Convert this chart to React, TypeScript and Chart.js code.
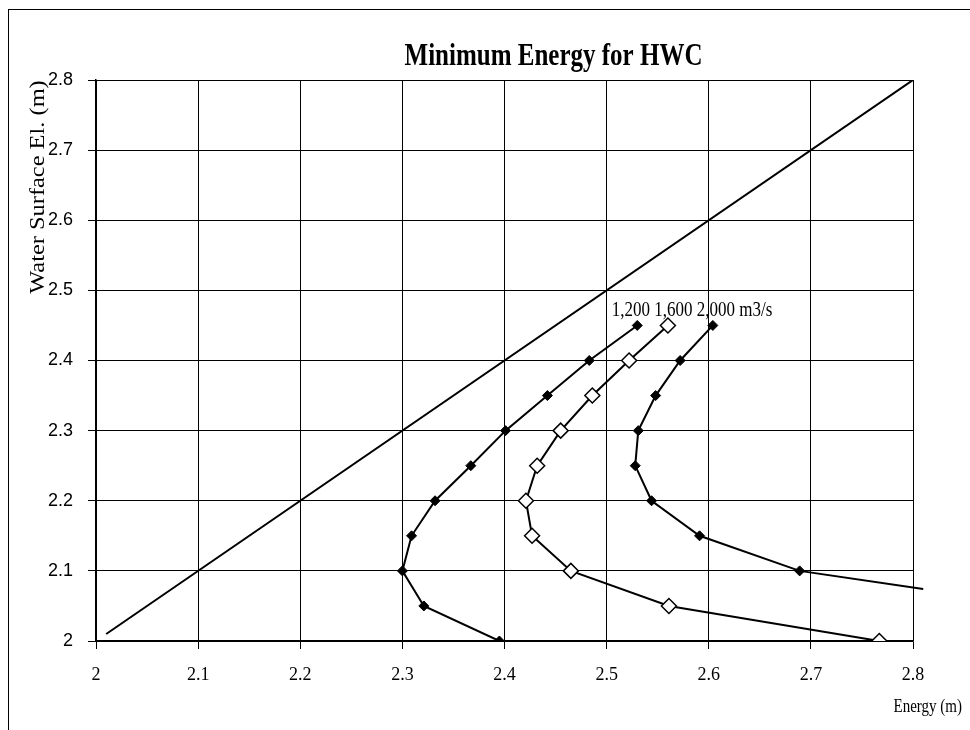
import React, { useEffect, useRef } from "react";
import { Chart, registerables } from "chart.js";

Chart.register(...registerables);

const titleText = "Minimum Energy for HWC";
const xAxisTitle = "Energy (m)";
const yAxisTitle = "Water Surface El. (m)";
const seriesLabel = "1,200 1,600 2,000 m3/s";

const xTickLabels = ["2", "2.1", "2.2", "2.3", "2.4", "2.5", "2.6", "2.7", "2.8"];
const yTickLabels = ["2", "2.1", "2.2", "2.3", "2.4", "2.5", "2.6", "2.7", "2.8"];

// Water surface elevations (m)
const waterEl = [2.0, 2.05, 2.1, 2.15, 2.2, 2.25, 2.3, 2.35, 2.4, 2.45];
// Energy (m) for 1,200 m3/s
const energy1200 = [2.395, 2.321, 2.3, 2.309, 2.332, 2.367, 2.401, 2.442, 2.483, 2.53];
// Energy (m) for 1,600 m3/s
const energy1600 = [2.767, 2.561, 2.465, 2.427, 2.421, 2.432, 2.455, 2.486, 2.522, 2.56];
// 2,000 m3/s (curve runs past the right edge at its low end)
const waterEl2000 = [2.074, 2.1, 2.15, 2.2, 2.25, 2.3, 2.35, 2.4, 2.45];
const energy2000 = [2.81, 2.689, 2.591, 2.544, 2.528, 2.531, 2.548, 2.572, 2.604];
// Critical (E = y) line
const diagonalX = [2.01, 2.8];
const diagonalY = [2.01, 2.8];

// label anchor (data coords)
const labelAnchorX = 2.505;
const labelAnchorY = 2.463;
// title centre (data x)
const titleCenterX = 2.448;

const toPoints = (xs: number[], ys: number[]) => xs.map((x, i) => ({ x, y: ys[i] }));

// draws text stretched along its own vertical direction (the scan is taller than wide)
function stretchedText(
  ctx: CanvasRenderingContext2D,
  text: string,
  x: number,
  y: number,
  font: string,
  align: CanvasTextAlign,
  baseline: CanvasTextBaseline,
  sy: number,
  rotate = 0
) {
  ctx.save();
  ctx.translate(x, y);
  if (rotate) {
    ctx.rotate(rotate);
    ctx.scale(sy, 1);
  } else {
    ctx.scale(1, sy);
  }
  ctx.font = font;
  ctx.textAlign = align;
  ctx.textBaseline = baseline;
  ctx.fillStyle = "#000";
  ctx.fillText(text, 0, 0);
  ctx.restore();
}

const textPlugin = {
  id: "extraText",
  afterDraw(chart: any) {
    const { ctx, scales } = chart;
    stretchedText(
      ctx,
      titleText,
      scales.x.getPixelForValue(titleCenterX),
      57,
      "bold 25px 'Liberation Serif', serif",
      "center",
      "middle",
      1.25
    );
    stretchedText(
      ctx,
      seriesLabel,
      scales.x.getPixelForValue(labelAnchorX),
      scales.y.getPixelForValue(labelAnchorY),
      "17px 'Liberation Serif', serif",
      "left",
      "alphabetic",
      1.25
    );
    stretchedText(ctx, xAxisTitle, 962, 707, "15px 'Liberation Serif', serif", "right", "middle", 1.3);
    stretchedText(
      ctx,
      yAxisTitle,
      39,
      187,
      "20px 'Liberation Serif', serif",
      "center",
      "middle",
      1.22,
      -Math.PI / 2
    );
  },
};

export default function App() {
  const canvasRef = useRef<HTMLCanvasElement | null>(null);

  useEffect(() => {
    const canvas = canvasRef.current;
    if (!canvas) return;
    const chart = new Chart(canvas, {
      type: "scatter",
      data: {
        datasets: [
          {
            label: "E = y",
            data: toPoints(diagonalX, diagonalY),
            showLine: true,
            borderColor: "#000",
            borderWidth: 2,
            pointRadius: 0,
          },
          {
            label: "1,200 m3/s",
            data: toPoints(energy1200, waterEl),
            showLine: true,
            borderColor: "#000",
            borderWidth: 2,
            pointStyle: "rectRot",
            pointRadius: 5,
            pointBackgroundColor: "#000",
            pointBorderColor: "#000",
            pointBorderWidth: 1,
          },
          {
            label: "1,600 m3/s",
            data: toPoints(energy1600, waterEl),
            showLine: true,
            borderColor: "#000",
            borderWidth: 2,
            pointStyle: "rectRot",
            pointRadius: 7.5,
            pointBackgroundColor: "#fff",
            pointBorderColor: "#000",
            pointBorderWidth: 1.5,
          },
          {
            label: "2,000 m3/s",
            data: toPoints(energy2000, waterEl2000),
            showLine: true,
            clip: false as any,
            borderColor: "#000",
            borderWidth: 2,
            pointStyle: "rectRot",
            pointRadius: energy2000.map((_, i) => (i === 0 ? 0 : 5)),
            pointBackgroundColor: "#000",
            pointBorderColor: "#000",
            pointBorderWidth: 1,
          },
        ],
      },
      options: {
        responsive: false,
        animation: false,
        layout: { padding: { left: 0, right: 57, top: 80, bottom: 0 } },
        plugins: {
          legend: { display: false },
          tooltip: { enabled: false },
          title: { display: false },
        },
        scales: {
          x: {
            type: "linear",
            min: 2,
            max: 2.8,
            afterFit: (s: any) => {
              s.height = 89;
            },
            ticks: {
              stepSize: 0.1,
              autoSkip: false,
              maxRotation: 0,
              color: "#000",
              padding: 15,
              font: { family: "'Liberation Serif', serif", size: 18 },
              callback: (_v: any, i: number) => xTickLabels[i],
            },
            grid: { color: "#000", lineWidth: 1, tickLength: 8, tickColor: "#000" },
            border: { color: "#000", width: 1.5 },
          },
          y: {
            type: "linear",
            min: 2,
            max: 2.8,
            afterFit: (s: any) => {
              s.width = 96;
            },
            ticks: {
              stepSize: 0.1,
              autoSkip: false,
              color: "#000",
              padding: 15,
              font: { family: "'Liberation Sans', sans-serif", size: 18 },
              callback: (_v: any, i: number) => yTickLabels[i],
            },
            grid: { color: "#000", lineWidth: 1, tickLength: 8, tickColor: "#000" },
            border: { color: "#000", width: 1.5 },
          },
        },
      },
      plugins: [textPlugin],
    });
    return () => chart.destroy();
  }, []);

  return (
    <div style={{ position: "fixed", left: 0, top: 0, width: 970, height: 730, background: "#fff" }}>
      <div
        style={{
          position: "absolute",
          left: 8,
          top: 9,
          width: 970,
          height: 730,
          borderLeft: "1.5px solid #000",
          borderTop: "1.5px solid #000",
        }}
      />
      <canvas ref={canvasRef} width={970} height={730} style={{ position: "absolute", left: 0, top: 0 }} />
    </div>
  );
}
